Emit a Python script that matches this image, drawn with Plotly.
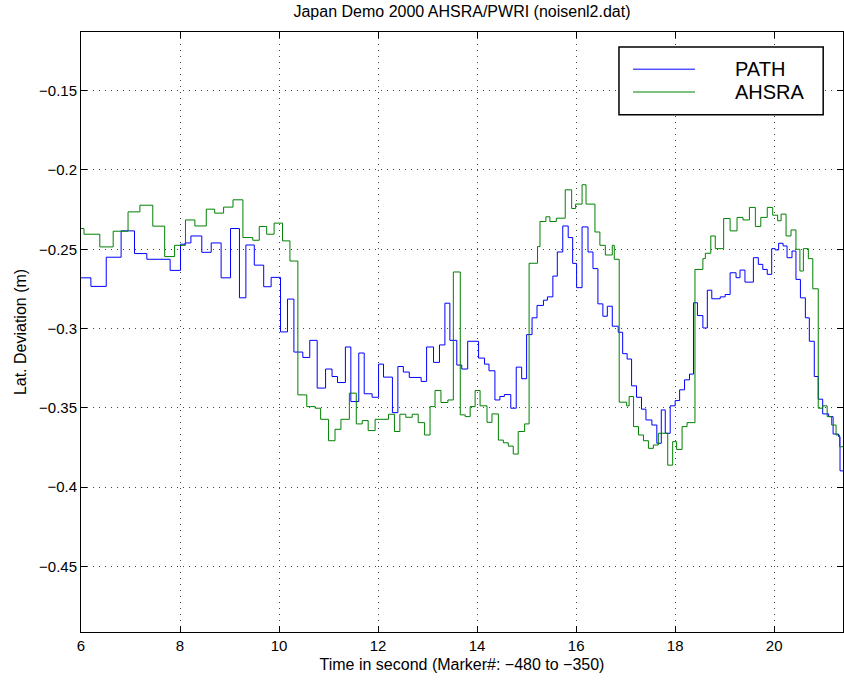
import plotly.graph_objects as go

# step data: time each level starts, and the level (m)
path_t = [6.00, 6.20, 6.51, 6.81, 7.08, 7.33, 7.80, 8.01, 8.10, 8.22, 8.44, 8.63, 8.83, 9.02,
          9.20, 9.33, 9.50, 9.69, 9.84, 10.03, 10.17, 10.30, 10.48, 10.62, 10.77, 10.94,
          11.07, 11.18, 11.34, 11.45, 11.61, 11.72, 11.88, 12.01, 12.11, 12.29, 12.40,
          12.51, 12.63, 12.87, 12.98, 13.12, 13.24, 13.35, 13.45, 13.59, 13.69, 13.81,
          14.03, 14.15, 14.24, 14.36, 14.46, 14.55, 14.68, 14.79, 14.90, 15.00, 15.11,
          15.21, 15.34, 15.42, 15.53, 15.62, 15.73, 15.84, 15.93, 16.01, 16.12, 16.24,
          16.34, 16.44, 16.54, 16.63, 16.73, 16.85, 16.94, 17.03, 17.12, 17.22, 17.32,
          17.41, 17.53, 17.63, 17.72, 17.80, 17.90, 18.00, 18.09, 18.19, 18.29, 18.37,
          18.45, 18.56, 18.65, 18.74, 18.91, 19.01, 19.11, 19.23, 19.31, 19.41, 19.58,
          19.68, 19.77, 19.86, 19.95, 20.02, 20.09, 20.18, 20.26, 20.36, 20.44, 20.53,
          20.63, 20.71, 20.81, 20.89, 20.98, 21.10, 21.19, 21.30, 21.33, 21.39]
path_v = [-0.2680, -0.2734, -0.2550, -0.2384, -0.2527, -0.2563, -0.2633, -0.2468, -0.2460,
          -0.2416, -0.2519, -0.2460, -0.2680, -0.2369, -0.2806, -0.2473, -0.2600, -0.2736,
          -0.2677, -0.3021, -0.2814, -0.3148, -0.3182, -0.3074, -0.3375, -0.3255, -0.3302,
          -0.3340, -0.3116, -0.3460, -0.3154, -0.3411, -0.3433, -0.3224, -0.3306, -0.3530,
          -0.3239, -0.3274, -0.3308, -0.3333, -0.3116, -0.3213, -0.3103, -0.2840, -0.3074,
          -0.3230, -0.3255, -0.3080, -0.3186, -0.3224, -0.3266, -0.3450, -0.3428, -0.3416,
          -0.3502, -0.3243, -0.3316, -0.3038, -0.2932, -0.2854, -0.2821, -0.2800, -0.2669,
          -0.2517, -0.2353, -0.2426, -0.2589, -0.2742, -0.2359, -0.2517, -0.2622, -0.2844,
          -0.2922, -0.2859, -0.2985, -0.3023, -0.3158, -0.3192, -0.3361, -0.3433, -0.3508,
          -0.3576, -0.3608, -0.3723, -0.3513, -0.3660, -0.3487, -0.3454, -0.3386, -0.3323,
          -0.3287, -0.2837, -0.2918, -0.2996, -0.2758, -0.2812, -0.2800, -0.2785, -0.2648,
          -0.2679, -0.2631, -0.2707, -0.2553, -0.2595, -0.2627, -0.2658, -0.2496, -0.2504,
          -0.2462, -0.2479, -0.2553, -0.2511, -0.2690, -0.2806, -0.2932, -0.3080, -0.3302,
          -0.3445, -0.3538, -0.3555, -0.3665, -0.3681, -0.3897, -0.3897]

ahsra_t = [6.00, 6.06, 6.38, 6.65, 6.95, 7.19, 7.45, 7.69, 7.89, 8.11, 8.30, 8.53, 8.70,
           8.88, 9.07, 9.27, 9.47, 9.60, 9.75, 9.90, 10.07, 10.22, 10.38, 10.56, 10.73,
           10.84, 11.00, 11.13, 11.25, 11.42, 11.56, 11.68, 11.80, 11.94, 12.21, 12.33,
           12.44, 12.56, 12.69, 12.81, 12.94, 13.05, 13.15, 13.27, 13.41, 13.52, 13.66,
           13.76, 13.86, 13.96, 14.06, 14.20, 14.30, 14.43, 14.53, 14.63, 14.73, 14.83,
           14.96, 15.05, 15.22, 15.27, 15.39, 15.47, 15.60, 15.78, 15.91, 15.99, 16.12,
           16.20, 16.38, 16.48, 16.59, 16.73, 16.77, 16.87, 17.02, 17.07, 17.16, 17.26,
           17.36, 17.46, 17.56, 17.66, 17.85, 17.95, 18.03, 18.14, 18.24, 18.40, 18.56,
           18.61, 18.72, 18.81, 18.98, 19.11, 19.25, 19.37, 19.50, 19.62, 19.73, 19.86,
           19.97, 20.07, 20.14, 20.24, 20.34, 20.44, 20.52, 20.59, 20.69, 20.78, 20.89,
           20.98, 21.07, 21.16, 21.25, 21.32, 21.39]
ahsra_v = [-0.2369, -0.2405, -0.2485, -0.2386, -0.2264, -0.2222, -0.2354, -0.2546, -0.2475,
           -0.2315, -0.2353, -0.2247, -0.2272, -0.2234, -0.2188, -0.2426, -0.2443, -0.2356,
           -0.2405, -0.2335, -0.2447, -0.2574, -0.3418, -0.3492, -0.3502, -0.3572, -0.3707,
           -0.3635, -0.3572, -0.3407, -0.3601, -0.3580, -0.3643, -0.3572, -0.3540, -0.3649,
           -0.3540, -0.3559, -0.3540, -0.3593, -0.3671, -0.3492, -0.3390, -0.3466, -0.3450,
           -0.2643, -0.3544, -0.3555, -0.3492, -0.3390, -0.3487, -0.3591, -0.3538, -0.3703,
           -0.3720, -0.3741, -0.3791, -0.3649, -0.3601, -0.2588, -0.2483, -0.2325, -0.2295,
           -0.2325, -0.2304, -0.2125, -0.2243, -0.2215, -0.2093, -0.2215, -0.2391, -0.2475,
           -0.2536, -0.2475, -0.2563, -0.3464, -0.3487, -0.3428, -0.3618, -0.3671, -0.3707,
           -0.3755, -0.3734, -0.3660, -0.3861, -0.3713, -0.3762, -0.3618, -0.3593, -0.2627,
           -0.2559, -0.2525, -0.2416, -0.2496, -0.2306, -0.2384, -0.2299, -0.2315, -0.2236,
           -0.2356, -0.2299, -0.2236, -0.2285, -0.2320, -0.2278, -0.2416, -0.2378, -0.2500,
           -0.2637, -0.2496, -0.2559, -0.2749, -0.3502, -0.3487, -0.3555, -0.3608, -0.3671,
           -0.3745, -0.3745]

x_ticks = [6, 8, 10, 12, 14, 16, 18, 20]
y_ticks = [-0.45, -0.4, -0.35, -0.3, -0.25, -0.2, -0.15]
series = [("PATH", path_t, path_v, "#0000ff"), ("AHSRA", ahsra_t, ahsra_v, "#008000")]

FONT = "Liberation Sans, Arial, Helvetica, sans-serif"

fig = go.Figure()
for name, t, v, col in series:
    fig.add_trace(go.Scatter(x=t, y=v, mode="lines", name=name, line_shape="hv",
                             line=dict(color=col, width=1), showlegend=False))

axis_style = dict(showline=True, linecolor="black", linewidth=1, mirror="allticks",
                  ticks="inside", ticklen=6, tickcolor="black", showgrid=True,
                  gridcolor="#444444", griddash="1px,5px", gridwidth=1, zeroline=False,
                  automargin=False,
                  tickfont=dict(size=15, color="black", family=FONT))

fig.update_xaxes(range=[6, 21.39], tickvals=x_ticks, ticktext=[str(v) for v in x_ticks],
                 title=dict(text="Time in second (Marker#: \u2212480 to \u2212350)",
                            font=dict(size=16, color="black", family=FONT), standoff=5),
                 **axis_style)
fig.update_yaxes(range=[-0.4913, -0.113], tickvals=y_ticks,
                 ticktext=["\u2212%g" % abs(v) for v in y_ticks],
                 title=dict(text="Lat. Deviation (m)",
                            font=dict(size=16, color="black", family=FONT), standoff=8),
                 **axis_style)

# hand-drawn legend box in the top right corner, Matlab style
shapes = [dict(type="rect", xref="paper", yref="paper", x0=0.706, x1=0.974, y0=0.862, y1=0.975,
               line=dict(color="black", width=1.5), fillcolor="white", layer="above")]
annotations = []
for i, (name, t, v, col) in enumerate(series):
    yy = 0.938 - i * 0.038
    shapes.append(dict(type="line", xref="paper", yref="paper", x0=0.7244, x1=0.8058,
                       y0=yy, y1=yy, line=dict(color=col, width=1), layer="above"))
    annotations.append(dict(xref="paper", yref="paper", x=0.8556, y=yy, text=name,
                            showarrow=False, xanchor="left", yanchor="middle",
                            font=dict(size=20, color="black", family=FONT)))

fig.update_layout(
    width=844, height=683,
    margin=dict(l=81, r=1, t=32, b=51),
    paper_bgcolor="white", plot_bgcolor="white",
    title=dict(text="Japan Demo 2000 AHSRA/PWRI (noisenl2.dat)", xref="paper", x=0.5,
               xanchor="center", y=0.992, yanchor="top",
               font=dict(size=16, color="black", family=FONT)),
    shapes=shapes, annotations=annotations,
)

# drop the page's default body margin so the figure sits at the window corner
fig.write_html("out.html", config={"displayModeBar": False},
               post_script="document.body.style.margin='0px';")
